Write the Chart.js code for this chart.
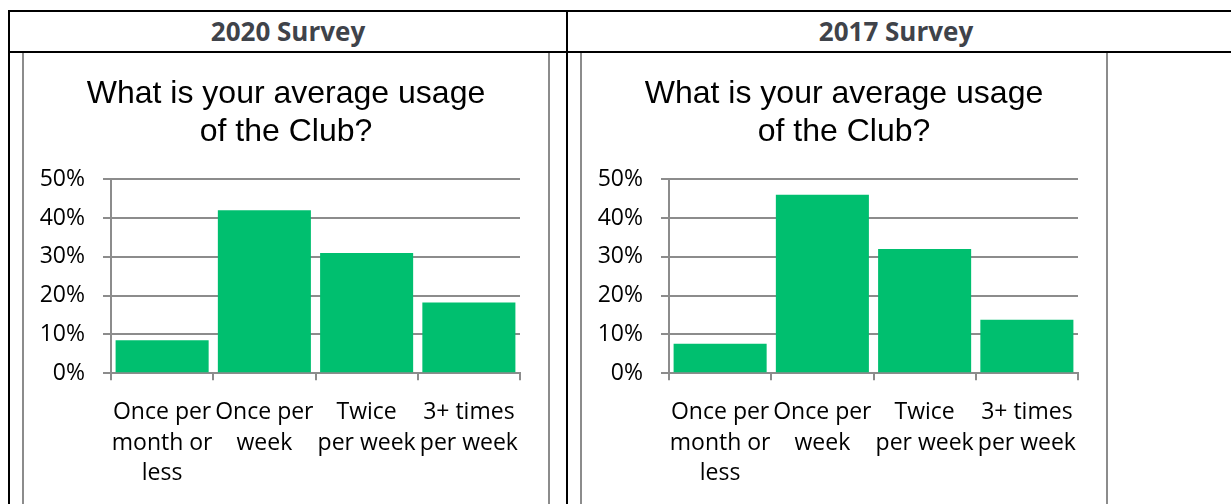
<!DOCTYPE html>
<html>
<head>
<meta charset="utf-8">
<script src="https://cdn.jsdelivr.net/npm/chart.js@4.4.1/dist/chart.umd.min.js"></script>
<style>
  html, body { margin: 0; padding: 0; background: #fff; overflow: hidden; }
  body { width: 1231px; height: 504px; position: relative; }
  .rule { position: absolute; background: #000; }
  .head {
    position: absolute; top: 12px; height: 39px; line-height: 39px; text-align: center;
    font-family: 'Open Sans', sans-serif; font-weight: 700; font-size: 26px; color: #3f434a;
  }
  .frame {
    position: absolute; top: 53px; width: 524px; height: 480px;
    border-left: 2px solid #8c8c8c; border-right: 2px solid #8c8c8c;
  }
  .plot { position: relative; width: 524px; height: 473px; }
</style>
</head>
<body>
<div class="rule" style="left:8px; top:10px; width:1300px; height:2px;"></div>
<div class="rule" style="left:8px; top:51px; width:1300px; height:2px;"></div>
<div class="rule" style="left:8px; top:10px; width:2px; height:600px;"></div>
<div class="rule" style="left:566px; top:10px; width:2px; height:600px;"></div>

<div class="head" style="left:10px; width:556px;">2020 Survey</div>
<div class="head" style="left:568px; width:656px;">2017 Survey</div>

<div class="frame" style="left:22px;"><div class="plot"><canvas id="chart2020"></canvas></div></div>
<div class="frame" style="left:580px;"><div class="plot"><canvas id="chart2017"></canvas></div></div>

<script>
const categories = [
    ['Once per', 'month or', 'less'],
    ['Once per', 'week'],
    ['Twice', 'per week'],
    ['3+ times', 'per week'],
];
const usage2020 = [8.5, 42, 31, 18.2];
const usage2017 = [7.6, 46, 32, 13.8];
const yTicks = [0, 10, 20, 30, 40, 50];
const chartTitle = ['What is your average usage', 'of the Club?'];

const barColor = '#00bf6f';
const axisGray = '#8c8c8c';
const labelFont = { family: "'Open Sans', sans-serif", size: 23, lineHeight: 1.33 };

// the title sits centred on the whole chart box, not on the padded area
const centerTitle = {
    id: 'centerTitle',
    afterLayout(chart) {
        const t = chart.titleBlock;
        t.left = 0;
        t.right = chart.width;
        t.width = chart.width;
    },
};

function usageChart(canvasId, values) {
    const canvas = document.getElementById(canvasId);
    return new Chart(canvas, {
        type: 'bar',
        data: {
            labels: categories,
            datasets: [{
                data: values,
                backgroundColor: barColor,
                barPercentage: 0.91,
                categoryPercentage: 1,
            }],
        },
        plugins: [centerTitle],
        options: {
            responsive: true,
            maintainAspectRatio: false,
            animation: false,
            layout: { padding: { left: 0, right: 28, top: 0, bottom: 20 } },
            plugins: {
                legend: { display: false },
                tooltip: { enabled: false },
                title: {
                    display: true,
                    text: chartTitle,
                    color: '#000',
                    font: { family: "'Liberation Sans', Arial, sans-serif", size: 32, weight: 'normal', lineHeight: 1.16 },
                    padding: { top: 23, bottom: 29 },
                },
            },
            scales: {
                x: {
                    grid: { drawOnChartArea: false, color: axisGray, lineWidth: 2, tickLength: 7 },
                    border: { color: axisGray, width: 2 },
                    ticks: {
                        color: '#000',
                        font: labelFont,
                        padding: 17,
                        maxRotation: 0,
                        minRotation: 0,
                        autoSkip: false,
                    },
                },
                y: {
                    min: yTicks[0],
                    max: yTicks[yTicks.length - 1],
                    grid: { color: axisGray, lineWidth: 2, tickLength: 8 },
                    border: { color: axisGray, width: 2 },
                    ticks: {
                        stepSize: yTicks[1] - yTicks[0],
                        color: '#000',
                        font: labelFont,
                        padding: 18,
                        callback: v => v + '%',
                    },
                    afterFit(scale) { scale.width = 87; },
                },
            },
        },
    });
}

usageChart('chart2020', usage2020);
usageChart('chart2017', usage2017);
</script>
</body>
</html>
